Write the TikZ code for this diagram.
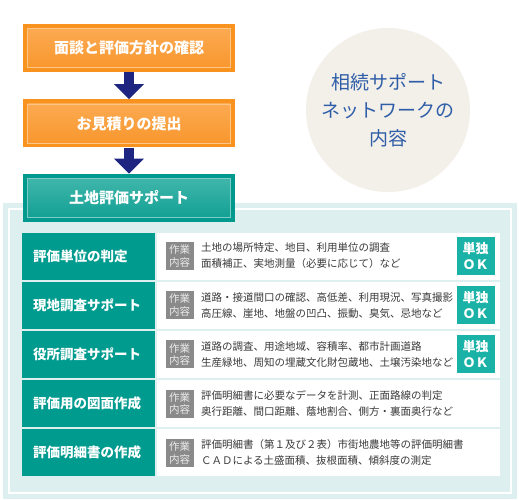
\documentclass[tikz,border=0pt]{standalone}
\usepackage{fontspec}
\setmainfont{Noto Sans CJK JP}
\usetikzlibrary{arrows.meta,positioning}
\definecolor{orangeout}{HTML}{F7931E}
\definecolor{orangetop}{HTML}{FCAC55}
\definecolor{orangebot}{HTML}{F8952A}
\definecolor{tealout}{HTML}{00998E}
\definecolor{tealtop}{HTML}{45B8AD}
\definecolor{tealbot}{HTML}{0E9E92}
\definecolor{tealcell}{HTML}{009B8F}
\definecolor{tealok}{HTML}{1AB2A7}
\definecolor{navyarrow}{HTML}{1D2580}
\definecolor{panelfill}{HTML}{DDF0EF}
\definecolor{tagfill}{HTML}{8A8A8A}
\definecolor{bodytext}{HTML}{3A3A3A}
\definecolor{bubblefill}{HTML}{F3EFE9}
\definecolor{bubbletext}{HTML}{2F5EA8}

\begin{document}
\begin{tikzpicture}[x=1pt,y=-1pt,
  flowbox/.style n args={3}{fill=#1,minimum width=212pt,minimum height=48pt,inner sep=0pt,
    path picture={\shade[top color=#2,bottom color=#3,draw=#2!70!white,line width=0.6pt]
      ([shift={(4.5pt,-4.5pt)}]path picture bounding box.north west) rectangle
      ([shift={(-4.5pt,4.5pt)}]path picture bounding box.south east);},
    text=white,font=\fontsize{15}{18}\selectfont\bfseries},
  flowarrow/.style={draw=navyarrow,line width=10pt,-{Triangle[width=29pt,length=15pt]}},
  bubble/.style={circle,fill=bubblefill,minimum size=164pt,inner sep=0pt,align=center,
    text=bubbletext,font=\fontsize{19}{28}\selectfont},
  headcell/.style={fill=tealcell,text=white,anchor=west,minimum height=47pt,text width=111pt,
    inner xsep=11pt,align=left,font=\fontsize{13.5}{16}\selectfont\bfseries},
  desccell/.style={fill=white,minimum width=343pt,minimum height=47pt,inner sep=0pt},
  tagbox/.style={fill=tagfill,text=white!92!black,minimum size=28pt,inner sep=0pt,align=center,
    font=\fontsize{10.5}{12.5}\selectfont},
  okbox/.style={fill=tealok,text=white,minimum size=38pt,inner sep=0pt,align=center,
    font=\fontsize{13}{16}\selectfont\bfseries},
  desctext/.style={text=bodytext,align=left,inner sep=2pt,font=\fontsize{10.5}{16}\selectfont}]
  \useasboundingbox (0,0) rectangle (519,500);

  \fill[panelfill] (3,203) rectangle (517,499);
  \draw[white,line width=1.5pt] (9,209) rectangle (511,493);

  \node[flowbox={orangeout}{orangetop}{orangebot}] (talk) at (129,48) {面談と評価方針の確認};
  \node[flowbox={orangeout}{orangetop}{orangebot},below=27pt of talk] (quote) {お見積りの提出};
  \node[flowbox={tealout}{tealtop}{tealbot},below=26pt of quote] (land) {土地評価サポート};
  \draw[flowarrow] (talk) -- (quote);
  \draw[flowarrow] (quote) -- (land);

  \node[bubble] (title) at (388,110) {相続サポート\\ネットワークの\\内容};

  \foreach \i/\head/\lineA/\lineB in {
      1/評価単位の判定/土地の場所特定、地目、利用単位の調査/面積補正、実地測量（必要に応じて）など,
      2/現地調査サポート/道路・接道間口の確認、高低差、利用現況、写真撮影/高圧線、崖地、地盤の凹凸、振動、臭気、忌地など,
      3/役所調査サポート/道路の調査、用途地域、容積率、都市計画道路/生産緑地、周知の埋蔵文化財包蔵地、土壌汚染地など,
      4/評価用の図面作成/評価明細書に必要なデータを計測、正面路線の判定/奥行距離、間口距離、蔭地割合、側方・裏面奥行など,
      5/評価明細書の作成/評価明細書（第１及び２表）市街地農地等の評価明細書/ＣＡＤによる土盛面積、抜根面積、傾斜度の測定} {
    \pgfmathsetmacro\yy{256+49.2*(\i-1)}
    \node[headcell] (head\i) at (22,\yy) {\head};
    \node[desccell,right=1pt of head\i] (desc\i) {};
    \node[tagbox,right=9pt of desc\i.west] (tag\i) {作業\\内容};
    \node[desctext,right=5pt of tag\i] (text\i) {\lineA\\\lineB};
  }
  \foreach \i in {1,2,3}
    \node[okbox,left=5pt of desc\i.east] (ok\i) {単独\\ＯＫ};
\end{tikzpicture}
\end{document}
